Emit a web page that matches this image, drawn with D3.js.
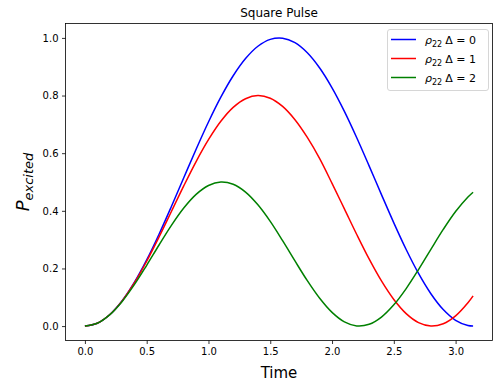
<!DOCTYPE html>
<html><head><meta charset="utf-8">
<script src="https://cdn.jsdelivr.net/npm/d3@7"></script>
<style>body{margin:0;background:#fff}svg{display:block;font-family:"DejaVu Sans",sans-serif}</style>
</head><body><svg id="c" width="498" height="386"></svg>
<script>
const time = [0,0.1,0.2,0.3,0.4,0.5,0.6,0.7,0.8,0.9,1.0,1.1,1.2,1.3,1.4,1.5,1.6,1.7,1.8,1.9,2.0,2.1,2.2,2.3,2.4,2.5,2.6,2.7,2.8,2.9,3.0,3.1,3.14159];
const rho22_d0 = [0,0.00997,0.03947,0.08733,0.15165,0.22985,0.31882,0.41502,0.51460,0.61360,0.70807,0.79425,0.86869,0.92844,0.97111,0.99500,0.99915,0.98339,0.94838,0.89548,0.82682,0.74513,0.65368,0.55609,0.45625,0.35817,0.26574,0.18266,0.11222,0.05724,0.01991,0.00173,0];
const rho22_d1 = [0,0.00996,0.03934,0.08668,0.14961,0.22498,0.30909,0.39764,0.48650,0.57099,0.64674,0.71059,0.75885,0.78900,0.79997,0.79068,0.76225,0.71608,0.65455,0.58090,0.49518,0.40665,0.31780,0.23297,0.15659,0.09227,0.04326,0.01202,0.00010,0.00809,0.03559,0.08124,0.10505];
const rho22_d2 = [0,0.00993,0.03895,0.08473,0.14366,0.21101,0.28138,0.34938,0.40955,0.45699,0.48785,0.49986,0.49207,0.46497,0.42085,0.36334,0.29642,0.22609,0.15750,0.09641,0.04745,0.01460,0.00046,0.00615,0.03121,0.07366,0.13016,0.19624,0.26644,0.33537,0.39754,0.44791,0.46463];
const seriesNames = ["0","1","2"];
const seriesColors = ["#0000ff","#ff0000","#008000"];
const xTicks = [0,0.5,1.0,1.5,2.0,2.5,3.0];
const yTicks = [0,0.2,0.4,0.6,0.8,1.0];

const svg = d3.select("#c");
const L=65.5, R=492.5, T=23.5, B=340.5;
const pad = 0.05*Math.PI;
const x = d3.scaleLinear().domain([-pad, Math.PI+pad]).range([L,R]);
const y = d3.scaleLinear().domain([-0.05,1.05]).range([B,T]);

const xa = svg.append("g").attr("transform",`translate(0,${B})`)
  .call(d3.axisBottom(x).tickValues(xTicks).tickFormat(d3.format(".1f")).tickSizeOuter(0).tickSize(3.5).tickPadding(3.5));
const ya = svg.append("g").attr("transform",`translate(${L},0)`)
  .call(d3.axisLeft(y).tickValues(yTicks).tickFormat(d3.format(".1f")).tickSizeOuter(0).tickSize(3.5).tickPadding(3.5));
[xa,ya].forEach(a=>{a.select(".domain").remove();a.selectAll("text").attr("font-size",10).attr("font-family","DejaVu Sans").attr("fill","#000");a.selectAll("line").attr("stroke","#000").attr("stroke-width",0.8);});

const series=[rho22_d0,rho22_d1,rho22_d2];
const line = d3.line().x((d,i)=>x(time[i])).y(d=>y(d)).curve(d3.curveCatmullRom.alpha(0.5));
series.forEach((s,k)=>{
  svg.append("path").datum(s).attr("d",line).attr("fill","none").attr("stroke",seriesColors[k]).attr("stroke-width",1.5);
});

svg.append("rect").attr("x",L).attr("y",T).attr("width",R-L).attr("height",B-T).attr("fill","none").attr("stroke","#000").attr("stroke-width",0.8);

svg.append("text").attr("x",(L+R)/2).attr("y",17).attr("text-anchor","middle").attr("font-size",12).text("Square Pulse");
svg.append("text").attr("x",(L+R)/2).attr("y",378).attr("text-anchor","middle").attr("font-size",15).text("Time");
const yl = svg.append("text").attr("transform",`translate(29,${(T+B)/2}) rotate(-90)`).attr("text-anchor","middle").attr("font-style","italic");
yl.append("tspan").attr("font-size",18).text("P");
yl.append("tspan").attr("font-size",13).attr("dy",4).text("excited");

// legend
const lg = svg.append("g");
lg.append("rect").attr("x",387.5).attr("y",29.5).attr("width",101).attr("height",61).attr("rx",2.5).attr("fill","#fff").attr("fill-opacity",0.8).attr("stroke","#ccc").attr("stroke-width",0.8);
seriesNames.forEach((n,k)=>{
  const yy = 39.5 + k*19;
  lg.append("line").attr("x1",391).attr("x2",416).attr("y1",yy).attr("y2",yy).attr("stroke",seriesColors[k]).attr("stroke-width",1.5);
  const t = lg.append("text").attr("x",425).attr("y",yy+4).attr("font-size",11);
  t.append("tspan").attr("font-style","italic").text("ρ");
  t.append("tspan").attr("font-size",8).attr("dy",3).text("22");
  t.append("tspan").attr("dy",-3).attr("dx",3).text("Δ = "+n);
});
</script></body></html>
